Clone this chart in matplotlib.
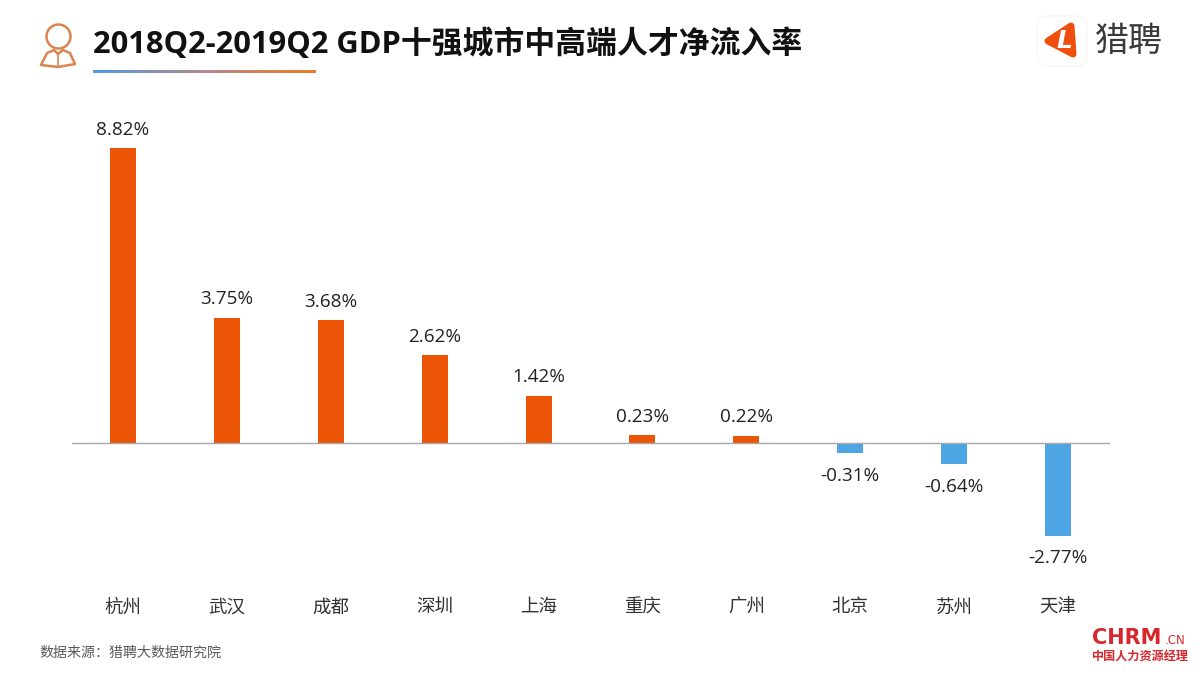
import matplotlib
matplotlib.use('Agg')
import matplotlib.pyplot as plt
from matplotlib.patches import Circle, FancyBboxPatch, Polygon
import numpy as np

plt.rcParams['font.family'] = ['Noto Sans CJK SC', 'DejaVu Sans']

cities = ['杭州', '武汉', '成都', '深圳', '上海', '重庆', '广州', '北京', '苏州', '天津']
values = [8.82, 3.75, 3.68, 2.62, 1.42, 0.23, 0.22, -0.31, -0.64, -2.77]
title = '2018Q2-2019Q2 GDP十强城市中高端人才净流入率'
source = '数据来源：猎聘大数据研究院'
POS = '#EC5505'
NEG = '#4DA6E3'

W, H = 1200, 675
fig = plt.figure(figsize=(12, 6.75), dpi=100, facecolor='white')
ax = fig.add_axes([72/W, 1-590/H, (1110-72)/W, (590-110)/H])
zero_px = 443
scale = (zero_px-148)/8.82
ax.set_ylim((zero_px-590)/scale, (zero_px-110)/scale)
ax.set_xlim(-0.491, 9.5)
colors = [POS if v >= 0 else NEG for v in values]
x = np.arange(len(cities))
ax.bar(x, values, width=0.25, color=colors)
for s in ['top', 'right', 'left', 'bottom']:
    ax.spines[s].set_visible(False)
ax.axhline(0, color='#A6A6A6', lw=1)
ax.set_yticks([])
ax.set_xticks(x)
ax.set_xticklabels(cities, fontsize=13.3, color='#333333')
ax.tick_params(axis='x', length=0, pad=6)
for xi, v in zip(x, values):
    off = 0.55 if v >= 0 else -0.68
    ax.text(xi, v+off, f'{v:.2f}%', ha='center', va='center', fontsize=13.6, color='#222222',
            family=['Open Sans', 'DejaVu Sans'])

# overlay in pixel coordinates
ov = fig.add_axes([0, 0, 1, 1], facecolor='none')
ov.imshow(np.linspace(0, 1, 256).reshape(1, -1), extent=(93, 316, 73, 70), aspect='auto',
          cmap=matplotlib.colors.LinearSegmentedColormap.from_list('g', ['#4D9BDD', '#B58A90', '#F07A22']))
ov.set_xlim(0, W); ov.set_ylim(H, 0); ov.axis('off')
ov.text(93, 44, title, fontsize=22.2, fontweight='bold', va='center', ha='left', color='#111111',
        family=['Open Sans', 'Noto Sans CJK SC'])
ov.text(39.5, 652.5, source, fontsize=10.1, va='center', ha='left', color='#595959')

# person icon
c = '#D9854F'
ov.add_patch(Circle((58.5, 36.5), 12, fc='white', ec=c, lw=1.8))
ov.add_patch(Polygon([(41, 65), (47, 53), (54, 50), (58, 54), (63, 50), (70, 53), (75, 64), (58, 67)],
                     closed=True, fc='white', ec=c, lw=1.8, joinstyle='round'))
ov.plot([58, 58], [54, 66], color=c, lw=1.2)

# liepin logo
ov.add_patch(FancyBboxPatch((1037, 16), 50, 50, boxstyle='round,pad=0,rounding_size=11', fc='white', ec='#F6F6F6', lw=1))
ov.add_patch(Polygon([(1048, 41), (1071, 26), (1073, 54)], closed=True, fc='#F04E0C', ec='#F04E0C', lw=5, joinstyle='round'))
ov.text(1064, 41, 'L', color='white', fontsize=18, fontweight='bold', ha='center', va='center', style='italic',
        family=['DejaVu Sans'])
ov.text(1095, 42, '猎聘', fontsize=24.5, color='#3A3A3A', va='center', ha='left', fontweight='medium')

# CHRM mark
ov.text(1092, 637.5, 'CHRM', fontsize=15, fontweight='bold', color='#D8262C', va='center', ha='left', family=['DejaVu Sans'])
ov.text(1165, 641, '.CN', fontsize=8.5, color='#D8262C', va='center', ha='left', family=['DejaVu Sans'])
ov.text(1092, 656, '中国人力资源经理', fontsize=8.7, fontweight='bold', color='#D8262C', va='center', ha='left')

fig.savefig('out.png', dpi=100)
